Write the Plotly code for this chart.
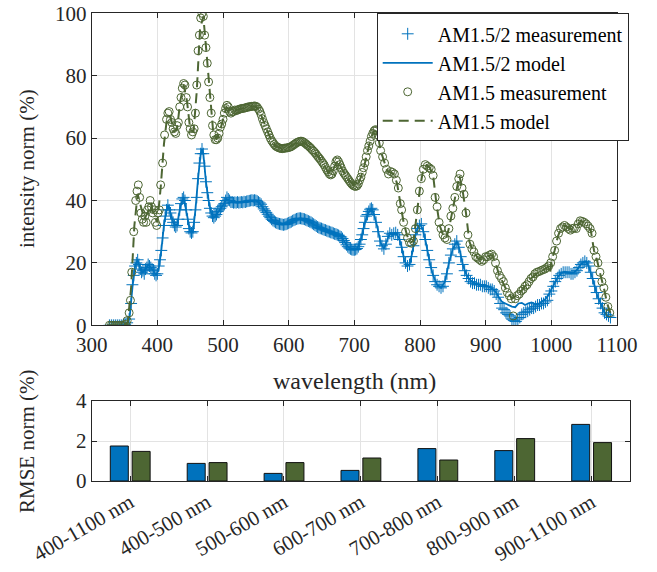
import plotly.graph_objects as go

# ---------------- data ----------------
# AM1.5 measurement (circles)
wl_am15_meas = [327, 330, 333, 336, 339, 342, 345, 348, 351, 354, 357, 359, 361, 364, 367, 369, 371, 373, 375, 377,
                379, 381, 383, 385, 387, 389, 391, 393, 395, 397, 399, 401, 403, 405, 408, 411, 414, 416, 418, 420,
                422, 424, 426, 428, 430, 432, 434, 436, 438, 440, 442, 444, 446, 448, 450, 452, 454, 456, 458, 460,
                462, 464, 466, 468, 470, 472, 474, 476, 478, 480, 482, 484, 486, 488, 490, 492, 494, 496, 498, 500,
                502, 504, 506, 508, 510, 512, 514, 516, 518, 520, 522, 524, 526, 528, 530, 532, 534, 536, 538, 540,
                542, 544, 546, 548, 550, 552, 554, 556, 558, 560, 562, 564, 566, 568, 570, 572, 574, 576, 578, 580,
                582, 584, 586, 588, 590, 592, 594, 596, 598, 600, 602, 604, 606, 608, 610, 612, 614, 616, 618, 620,
                622, 624, 626, 628, 630, 632, 634, 636, 638, 640, 642, 644, 646, 648, 650, 652, 654, 656, 658, 660,
                662, 664, 666, 668, 670, 672, 674, 676, 678, 680, 682, 684, 686, 688, 690, 692, 694, 696, 698, 700,
                702, 704, 706, 708, 710, 712, 714, 716, 718, 720, 722, 724, 726, 728, 730, 732, 734, 736, 738, 740,
                743, 746, 749, 752, 755, 758, 761, 764, 767, 770, 772, 775, 778, 781, 784, 787, 790, 793, 796, 799,
                802, 805, 808, 811, 814, 817, 820, 823, 826, 829, 832, 835, 838, 841, 844, 847, 850, 853, 856, 859,
                861, 864, 867, 870, 873, 876, 879, 882, 885, 888, 891, 894, 897, 900, 903, 906, 909, 912, 915, 918,
                921, 924, 927, 930, 933, 936, 939, 942, 945, 948, 951, 954, 957, 960, 963, 966, 969, 972, 975, 978,
                981, 984, 987, 990, 993, 996, 999, 1002, 1005, 1008, 1011, 1014, 1017, 1020, 1023, 1026, 1029, 1032,
                1035, 1038, 1041, 1044, 1047, 1050, 1053, 1056, 1059, 1062, 1065, 1068, 1071, 1074, 1077, 1080,
                1083, 1086, 1089]
int_am15_meas = [0, 0, 0, 0, 0, 0, 0, 0, 0.3, 1.5, 4, 8, 17, 30, 40, 43, 45, 41, 36, 34,
                 33, 35, 33, 37, 38, 40, 38, 36, 37, 33, 32, 36, 37, 45, 52, 61, 66, 68, 68.5, 66,
                 65, 63, 62, 61.5, 64, 65, 70, 73, 76, 77.5, 77, 73, 70, 65, 63, 61, 62, 63, 68, 77,
                 88, 93, 98.5, 100, 99, 93, 89, 84, 78, 73, 68, 64, 61, 59.5, 59.5, 60, 61.5, 63.5, 64.5, 66,
                 68, 69.5, 70.5, 70, 68.5, 68, 68.5, 68.5, 69, 68.8, 69, 69.2, 69.3, 69.5, 69.5, 69.6, 69.7, 69.8, 70, 70,
                 70.1, 70.2, 70.2, 70.3, 70.2, 69.9, 69.3, 68.6, 67.5, 66.2, 65, 64, 63, 62, 61, 60, 59.2, 58.6, 58, 57.5,
                 57.2, 57, 56.8, 56.7, 56.6, 56.7, 56.8, 56.8, 56.9, 57, 57.1, 57.3, 57.6, 57.9, 58.2, 58.5, 58.7, 58.9, 59, 59,
                 58.8, 58.5, 58.2, 57.8, 57.5, 57.1, 56.7, 56.2, 55.8, 55.3, 54.8, 54.2, 53.7, 53.2, 52.6, 52, 51.4, 50.6, 49.8, 49.2,
                 48.5, 48.2, 48.5, 49.5, 51, 52.5, 53, 52.4, 51.5, 50.5, 49.5, 48.8, 48.2, 47.6, 47, 46.4, 45.8, 45.3, 44.9, 44.6,
                 44.5, 44.7, 45.3, 46.5, 47.5, 49, 50.5, 52, 54, 56, 57.5, 59, 60.5, 61.5, 62.3, 62.7, 62.5, 61, 58.5, 56,
                 54, 52, 50, 48.5, 49.3, 49, 48.5, 46.5, 44, 39, 37, 33, 30, 28, 26.5, 26.3, 27, 31, 37, 43,
                 47, 50, 51.5, 51, 50.5, 50, 48, 41, 38, 33, 31, 29, 28, 27.5, 31, 35, 37.5, 41, 44.5, 47,
                 48.5, 44, 42, 36, 29, 26, 24.5, 23.5, 22, 21.5, 21, 20.5, 21, 22, 22, 22.5, 22.8, 22, 20, 17.5,
                 16, 15, 14, 12, 10.5, 9.5, 8.5, 3, 8.5, 9.5, 10, 11, 11.5, 12.5, 13, 14, 15, 15.5, 16.5, 17,
                 17.2, 17.5, 17.8, 18, 18.5, 19, 20, 22, 24, 27, 29.5, 31, 31.5, 32, 31.5, 31, 30.5, 31,
                 31.2, 31, 32.5, 33.5, 33.3, 33, 32.5, 31.8, 31, 29.5, 24, 22, 20, 17, 14, 12,
                 9, 6, 4]

# AM1.5 model (dashed line)
wl_am15_model = [325, 350, 355, 360, 365, 370, 375, 380, 385, 390, 395, 400, 405, 410, 415, 420, 425, 430, 435, 440,
                 445, 450, 455, 460, 465, 470, 475, 480, 485, 490, 495, 500, 505, 510, 515, 520, 530, 540, 550, 555,
                 560, 565, 570, 575, 580, 590, 600, 610, 620, 630, 640, 650, 660, 665, 670, 675, 680, 690, 700, 705,
                 710, 715, 720, 725, 730, 735, 740, 745, 750, 755, 760, 765, 770, 775, 780, 785, 790, 795, 800, 805,
                 810, 815, 820, 825, 830, 835, 840, 845, 850, 855, 860, 865, 870, 875, 880, 890, 900, 910, 915, 920,
                 930, 940, 950, 960, 970, 980, 990, 995, 998, 1000, 1005, 1010, 1015, 1020, 1030, 1040, 1045, 1050,
                 1060, 1065, 1070, 1075, 1080, 1085, 1090]
int_am15_model = [0, 0, 1, 12, 32, 42, 38, 34, 36, 39, 35, 33, 44, 58, 67, 67, 62, 63, 72, 77,
                  72, 63, 62, 75, 95, 99, 87, 73, 62, 59.5, 62, 66, 70, 69, 68.5, 69, 69.5, 70, 70.2, 69,
                  66.3, 63.5, 61, 59, 57.5, 56.6, 57, 58.2, 59, 57.5, 55.3, 52.6, 49.2, 48.3, 51, 52.8, 50.5, 47, 44.6, 45,
                  47.5, 51, 56, 60, 62.3, 62, 56, 52.5, 49.5, 49, 48.5, 45.5, 39, 33, 29, 26.5, 27, 35, 44, 50,
                  51.3, 50.5, 48, 39, 32, 29, 27.8, 32, 37.5, 43, 48, 43, 36, 27, 24, 21, 22, 22.5, 20, 16.5,
                  12, 8.5, 10, 12.5, 15.2, 17, 18, 18.8, 16.5, 20.5, 24, 28.5, 31.2, 32, 30.8, 32, 33.5, 33,
                  30.5, 24, 20.5, 16, 12, 7, 4]

# AM1.5/2 measurement (crosses)
wl_am152_meas = [327, 330, 333, 336, 339, 342, 345, 348, 351, 354, 357, 360, 362, 364, 366, 368, 370, 372, 374, 376,
                 378, 380, 382, 384, 386, 388, 390, 392, 394, 396, 398, 400, 402, 404, 406, 408, 410, 412, 414, 416,
                 418, 420, 422, 424, 426, 428, 430, 432, 434, 436, 438, 440, 442, 444, 446, 448, 450, 452, 454, 456,
                 458, 460, 462, 464, 466, 468, 470, 472, 474, 476, 478, 480, 482, 484, 486, 488, 490, 492, 494, 496,
                 498, 500, 502, 504, 506, 508, 510, 512, 514, 516, 518, 520, 522, 524, 526, 528, 530, 532, 534, 536,
                 538, 540, 542, 544, 546, 548, 550, 552, 554, 556, 558, 560, 562, 564, 566, 568, 570, 572, 574, 576,
                 578, 580, 582, 584, 586, 588, 590, 592, 594, 596, 598, 600, 602, 604, 606, 608, 610, 612, 614, 616,
                 618, 620, 622, 624, 626, 628, 630, 632, 634, 636, 638, 640, 642, 644, 646, 648, 650, 652, 654, 656,
                 658, 660, 662, 664, 666, 668, 670, 672, 674, 676, 678, 680, 682, 684, 686, 688, 690, 692, 694, 696,
                 698, 700, 702, 704, 706, 708, 710, 712, 714, 716, 718, 720, 722, 724, 726, 728, 730, 733, 736, 739,
                 742, 745, 748, 751, 754, 757, 760, 763, 766, 769, 772, 775, 778, 781, 784, 787, 790, 793, 796, 799,
                 802, 805, 808, 811, 814, 817, 820, 823, 826, 829, 832, 835, 838, 841, 844, 847, 850, 853, 856, 859,
                 862, 865, 868, 871, 874, 877, 880, 883, 886, 889, 892, 895, 898, 901, 904, 907, 910, 913, 916, 919,
                 922, 925, 928, 931, 934, 937, 940, 943, 946, 949, 952, 955, 958, 961, 964, 967, 970, 973, 976, 979,
                 982, 985, 988, 991, 994, 997, 1000, 1003, 1006, 1009, 1012, 1015, 1018, 1021, 1024, 1027, 1030, 1033,
                 1036, 1039, 1042, 1045, 1048, 1051, 1054, 1057, 1060, 1063, 1066, 1069, 1072, 1075, 1078, 1081, 1084,
                 1087, 1090]
int_am152_meas = [0, 0, 0, 0, 0, 0, 0, 0, 0.2, 0.8, 2, 7, 13, 16, 19, 20, 21, 19.5, 18, 17,
                  17.5, 16.5, 18, 18.5, 19.5, 19, 18.5, 18, 17.5, 16.5, 16, 16.5, 19, 21, 24, 28, 32, 35, 37, 38.5,
                  37, 36, 34, 33, 32, 31.5, 32, 34, 37, 39, 40.5, 41, 40, 37, 34, 31, 30, 29.6, 30, 33,
                  37, 41, 47, 52, 55, 56.5, 55, 51, 46, 42.5, 40, 37.5, 36, 35, 34.5, 35, 35.5, 36.5, 37, 37.5,
                  38, 38.5, 39, 40, 41, 40.5, 40, 39.5, 39.5, 39.3, 39.4, 39.3, 39.5, 39.3, 39.4, 39.5, 39.4, 39.6, 39.5, 39.7,
                  39.8, 39.9, 40, 40.1, 40, 40.1, 40, 39.8, 39.5, 39.2, 38.8, 38, 37.3, 36.7, 36.2, 35.6, 35, 34.5, 34, 33.6,
                  33.3, 33, 32.8, 32.6, 32.5, 32.4, 32.3, 32.2, 32.3, 32.4, 32.6, 32.8, 33, 33.2, 33.5, 33.7, 33.9, 34.1, 34.2, 34.3,
                  34.3, 34.2, 34.1, 34, 33.8, 33.6, 33.4, 33.2, 33, 32.7, 32.4, 32.1, 31.8, 31.5, 31.3, 31.1, 31, 30.8, 30.6, 30.5,
                  30.3, 30.1, 30, 29.8, 29.7, 29.5, 29.3, 29.2, 29, 28.8, 28.5, 28.3, 27.8, 27.2, 26.5, 25.8, 25.2, 24.8, 24.5, 24.3,
                  24.2, 24.2, 24.3, 24.6, 25.2, 26, 27.5, 29, 31, 33, 35, 35.5, 36.5, 37.2, 37.5, 37, 35.5, 33, 30, 27,
                  25.5, 24.5, 26, 28.5, 29.5, 29, 29.5, 29.7, 29, 27.5, 25, 22, 20, 19, 19.5, 22, 25.5, 29, 31, 32,
                  32.5, 30, 27.5, 24, 21, 18.5, 16, 14, 13, 12.5, 12, 12.5, 14, 16.5, 20, 22.5, 24.5, 26, 27, 25,
                  22, 19.5, 17.5, 16, 15, 14, 13.5, 13.5, 13, 13, 13, 12.5, 12.5, 12.5, 12, 11.5, 11.5, 11, 10, 9,
                  7, 5.5, 5, 4, 3.5, 3, 2, 1.5, 1.2, 2, 2.5, 3.5, 4, 4.2, 4.5, 5, 5.5, 5.5, 6, 6.5,
                  6.5, 7, 7, 7.5, 8, 10, 11, 12.5, 14, 15, 16, 16.5, 17, 17, 17, 17, 16.5, 16.5,
                  17, 17.5, 18.5, 19.5, 20, 20.5, 20, 19, 17, 15, 12.5, 10.5, 8.5, 7, 5.5, 4, 3.5,
                  3, 2.5]

# AM1.5/2 model (solid line)
wl_am152_model = [325, 350, 355, 358, 362, 366, 370, 374, 378, 382, 386, 390, 394, 398, 402, 406, 410, 414, 417, 420,
                  425, 430, 435, 440, 445, 450, 454, 458, 462, 466, 468, 470, 474, 478, 482, 486, 490, 495, 500, 505,
                  510, 520, 530, 540, 550, 555, 560, 565, 570, 575, 580, 590, 600, 610, 618, 625, 630, 640, 650, 660,
                  670, 680, 685, 690, 695, 700, 705, 710, 715, 720, 726, 730, 735, 740, 745, 750, 754, 758, 763, 768,
                  772, 776, 780, 784, 788, 792, 796, 800, 804, 808, 812, 816, 820, 826, 832, 838, 844, 850, 856, 860,
                  865, 870, 875, 880, 890, 900, 910, 916, 920, 925, 930, 935, 940, 945, 950, 955, 960, 965, 970, 975,
                  980, 985, 990, 995, 1000, 1005, 1010, 1015, 1020, 1025, 1030, 1035, 1040, 1045, 1050, 1053, 1057,
                  1062, 1066, 1070, 1075, 1080, 1085, 1090]
int_am152_model = [0, 0, 1, 3, 12, 19, 21, 18, 17, 18, 19.5, 18.5, 17.5, 16, 18, 24, 32, 37, 38.5, 36,
                   32.5, 32, 38, 41, 35, 30, 29.8, 37, 47, 55, 56.5, 55, 46, 40, 36, 34.5, 35.5, 37, 38.5, 40.5,
                   40, 39.3, 39.4, 39.9, 40, 39.3, 38, 36.5, 35, 33.8, 33, 32.3, 32.8, 33.9, 34.3, 33.9, 33.4, 32.1, 31, 30.1,
                   29.3, 28.3, 26.8, 25.2, 24.4, 24.2, 24.9, 27.5, 32, 35.5, 37.5, 35.5, 31.5, 26.5, 24.5, 27.5, 29.5, 29, 29.7, 28,
                   25, 21, 19, 19.5, 23, 28, 31, 32.3, 31, 27.5, 23, 19, 16, 13, 12, 14, 20, 24.5, 27, 24.5,
                   19.5, 16.5, 14.8, 13.8, 13, 12.8, 11.8, 10.5, 9, 7.5, 7, 6.5, 6, 5.8, 7, 7.2, 6.5, 7, 7.3, 6.8,
                   6.8, 7.5, 8.2, 9.5, 11.5, 13.5, 15.5, 16.7, 17.2, 17, 16.7, 17, 18, 19.5, 20.4, 20.5, 18.8,
                   15.5, 12.5, 9.5, 7, 4.5, 3, 2.5]

# RMSE bar chart
bands = ["400-1100 nm", "400-500 nm", "500-600 nm", "600-700 nm", "700-800 nm", "800-900 nm", "900-1100 nm"]
rmse_am152 = [1.75, 0.88, 0.38, 0.53, 1.62, 1.52, 2.83]
rmse_am15 = [1.48, 0.92, 0.92, 1.15, 1.05, 2.12, 1.92]

# ---------------- style ----------------
BLUE = "#0072BD"
GREEN = "#4D6633"
AXC = "#262626"
GRID = "#E3E3E3"
FONT = "Liberation Serif"
W, H = 657, 572


def px_x(p):
    return p / W


def px_y(p):
    return 1 - p / H


fig = go.Figure()

fig.add_trace(go.Scatter(
    x=wl_am152_meas, y=int_am152_meas, mode="markers", name="AM1.5/2 measurement",
    marker=dict(symbol="cross-thin-open", size=8.5, color=BLUE, line=dict(color=BLUE, width=1)),
    xaxis="x", yaxis="y"))
fig.add_trace(go.Scatter(
    x=wl_am152_model, y=int_am152_model, mode="lines", name="AM1.5/2 model",
    line=dict(color=BLUE, width=1.8), xaxis="x", yaxis="y"))
fig.add_trace(go.Scatter(
    x=wl_am15_meas, y=int_am15_meas, mode="markers", name="AM1.5 measurement",
    marker=dict(symbol="circle-open", size=8, color=GREEN, line=dict(color=GREEN, width=1)),
    xaxis="x", yaxis="y"))
fig.add_trace(go.Scatter(
    x=wl_am15_model, y=int_am15_model, mode="lines", name="AM1.5 model",
    line=dict(color=GREEN, width=2, dash="10px,6px"), xaxis="x", yaxis="y"))

fig.add_trace(go.Bar(
    x=bands, y=rmse_am152, marker=dict(color=BLUE, line=dict(color="#111111", width=1)),
    width=0.234, offset=-0.258, showlegend=False, xaxis="x2", yaxis="y2"))
fig.add_trace(go.Bar(
    x=bands, y=rmse_am15, marker=dict(color=GREEN, line=dict(color="#111111", width=1)),
    width=0.234, offset=0.026, showlegend=False, xaxis="x2", yaxis="y2"))

axis_common = dict(showline=True, linecolor=AXC, linewidth=1, mirror="ticks", ticks="inside",
                   ticklen=5, tickcolor=AXC, showgrid=True, gridcolor=GRID, gridwidth=1,
                   zeroline=False, automargin=False, tickfont=dict(family=FONT, size=21, color=AXC))

fig.update_layout(
    width=W, height=H, margin=dict(l=0, r=0, t=0, b=0, autoexpand=False),
    paper_bgcolor="white", plot_bgcolor="white",
    font=dict(family=FONT, color=AXC),
    barmode="overlay",
    xaxis=dict(domain=[px_x(91.7), px_x(617)], range=[300, 1100], tickvals=[300, 400, 500, 600, 700, 800, 900, 1000, 1100],
               anchor="y", **axis_common),
    yaxis=dict(domain=[px_y(325.3), px_y(13.3)], range=[0, 100], tickvals=[0, 20, 40, 60, 80, 100],
               anchor="x", **axis_common),
    xaxis2=dict(domain=[px_x(91.7), px_x(630)], range=[-0.5, 6.5], tickangle=-30, anchor="y2",
                type="category", **axis_common),
    yaxis2=dict(domain=[px_y(481), px_y(401)], range=[0, 4], tickvals=[0, 2, 4], anchor="x2", **axis_common),
    legend=dict(x=px_x(376.7), y=px_y(13.3), xanchor="left", yanchor="top",
                bgcolor="white", bordercolor=AXC, borderwidth=1, itemwidth=50,
                font=dict(family=FONT, size=20, color="#000000"), tracegroupgap=0),
    annotations=[
        dict(text="wavelength (nm)", x=px_x(354), y=px_y(381), xref="paper", yref="paper",
             showarrow=False, xanchor="center", yanchor="middle", font=dict(family=FONT, size=24, color=AXC)),
        dict(text="intensity norm (%)", x=px_x(27), y=px_y(169), xref="paper", yref="paper", textangle=-90,
             showarrow=False, xanchor="center", yanchor="middle", font=dict(family=FONT, size=21, color=AXC)),
        dict(text="RMSE norm (%)", x=px_x(27), y=px_y(441), xref="paper", yref="paper", textangle=-90,
             showarrow=False, xanchor="center", yanchor="middle", font=dict(family=FONT, size=21, color=AXC)),
    ],
)

fig.write_html("out.html", config={"displayModeBar": False},
               post_script="document.body.style.margin='0px';document.body.style.overflow='hidden';")
